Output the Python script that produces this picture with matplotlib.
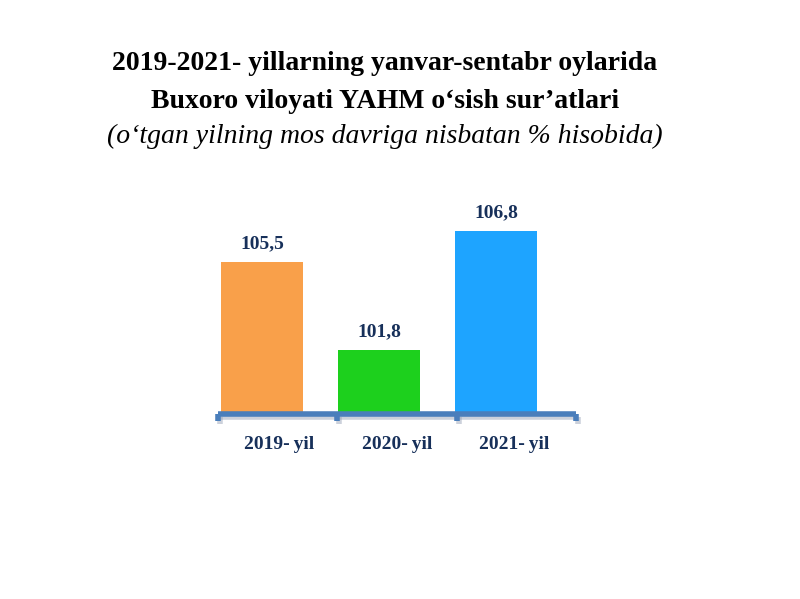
import matplotlib.pyplot as plt
import matplotlib.transforms as mtransforms

categories = ["2019-yil", "2020-yil", "2021-yil"]
values = [105.5, 101.8, 106.8]
value_labels = ["105,5", "101,8", "106,8"]
colors = ["#F9A04A", "#1DD01D", "#1EA4FF"]

title_lines = [
    "2019-2021- yillarning yanvar-sentabr oylarida",
    "Buxoro viloyati YAHM o\u2018sish sur\u2019atlari",
]
subtitle = "(o\u2018tgan yilning mos davriga nisbatan % hisobida)"

W, H = 800, 599
fig = plt.figure(figsize=(W / 100, H / 100), dpi=100)
fig.patch.set_facecolor("white")

y_min, y_max = 99.1, 110.0
ax_left, ax_right = 218, 576
ax_base = 414
px_per_unit = 23.8
ax_top = ax_base - (y_max - y_min) * px_per_unit
ax = fig.add_axes([ax_left / W, (H - ax_base) / H,
                   (ax_right - ax_left) / W, (ax_base - ax_top) / H])
ax.set_xlim(-0.375, 2.68)
ax.set_ylim(y_min, y_max)
for s in ax.spines.values():
    s.set_visible(False)
ax.set_xticks([])
ax.set_yticks([])
ax.patch.set_alpha(0)

x = list(range(len(categories)))
ax.bar(x, [v - y_min for v in values], bottom=y_min, width=0.70,
       color=colors, zorder=2)

navy = "#17305A"
for xi, v, lab in zip(x, values, value_labels):
    ax.annotate(lab, (xi, v), xytext=(0, 7), textcoords="offset points",
                ha="center", va="bottom", fontsize=14, fontweight="bold",
                color=navy, family="Liberation Serif")

# category axis with a soft shadow and downward tick marks
axis_blue = "#4A7EBB"
for dx, dy, col, a in [(2, -3, "#8f9bb0", 0.45), (0, 0, axis_blue, 1.0)]:
    trx = ax.transAxes + mtransforms.ScaledTranslation(dx / 100, dy / 100, fig.dpi_scale_trans)
    ax.plot([0, 1], [0, 0], color=col, lw=4, alpha=a,
            solid_capstyle="butt", clip_on=False, zorder=3, transform=trx)
    for tx in [0.0, 1 / 3, 2 / 3, 1.0]:
        ax.plot([tx, tx], [0, -0.028], color=col, lw=4, alpha=a,
                solid_capstyle="butt", clip_on=False, zorder=3, transform=trx)

for xi, c in zip(x, categories):
    ax.annotate(c.replace("-", "-\u2009"), (xi + 0.15, y_min), xytext=(0, -16),
                textcoords="offset points", ha="center", va="top", fontsize=14,
                fontweight="bold", color=navy, family="Liberation Serif")

fig.text(385 / W, 1 - 64 / H, title_lines[0], ha="center", va="center",
         fontsize=20, fontweight="bold", family="Liberation Serif", color="black")
fig.text(385 / W, 1 - 101 / H, title_lines[1], ha="center", va="center",
         fontsize=20, fontweight="bold", family="Liberation Serif", color="black")
fig.text(385 / W, 1 - 136 / H, subtitle, ha="center", va="center",
         fontsize=20, style="italic", family="Liberation Serif", color="black")

fig.savefig("out.png", dpi=100, facecolor="white")
